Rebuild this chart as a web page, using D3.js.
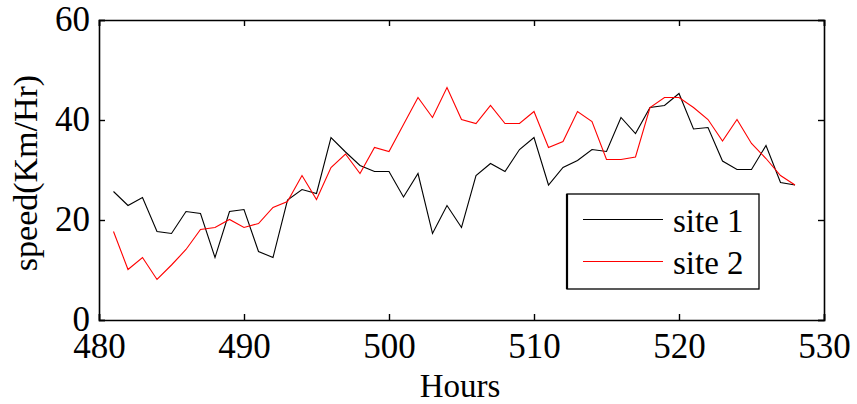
<!DOCTYPE html>
<html>
<head>
<meta charset="utf-8">
<script src="https://cdn.jsdelivr.net/npm/d3@7"></script>
<style>
  html, body { margin: 0; padding: 0; background: #fff; }
  svg { display: block; }
  text { font-family: "Liberation Serif", "Times New Roman", serif; fill: #000; }
</style>
</head>
<body>
<svg id="chart" width="857" height="404"></svg>
<script>
const hours = [481,482,483,484,485,486,487,488,489,490,491,492,493,494,495,496,497,498,499,500,501,502,503,504,505,506,507,508,509,510,511,512,513,514,515,516,517,518,519,520,521,522,523,524,525,526,527,528];
const site1 = [25.7,22.9,24.5,17.7,17.3,21.7,21.3,12.5,21.7,22.1,13.7,12.5,24.0,26.1,25.3,36.5,33.6,30.9,29.7,29.7,24.6,29.3,17.3,22.9,18.5,28.9,31.3,29.7,34.1,36.5,27.0,30.5,31.9,34.1,33.7,40.5,37.3,42.5,42.9,45.3,38.2,38.5,31.8,30.1,30.1,34.9,27.5,27.0];
const site2 = [17.7,10.1,12.5,8.1,11.0,14.1,18.1,18.5,20.1,18.5,19.3,22.5,23.7,28.9,24.1,30.5,33.2,29.3,34.5,33.7,39.1,44.5,40.5,46.5,40.1,39.3,42.9,39.3,39.3,41.7,34.5,35.7,41.7,39.7,32.1,32.1,32.6,42.5,44.5,44.5,42.5,40.1,35.8,40.1,35.3,32.3,28.9,27.0];
const xTicks = [480,490,500,510,520,530];
const yTicks = [0,20,40,60];
const seriesNames = ["site 1","site 2"];
const seriesColors = ["#000000","#ff0000"];

(function(){
const svg = d3.select("#chart");
const L = 99, R = 824, T = 20, B = 320;
const x = d3.scaleLinear().domain([480,530]).range([L,R]);
const y = d3.scaleLinear().domain([0,60]).range([B,T]);
const fs = 33, tfs = 35;
const tickLen = 6;

// data lines
const line = d3.line().x((d,i)=>x(hours[i])).y(d=>y(d));
[site1, site2].forEach((s,k)=>{
  svg.append("path").datum(s).attr("d", line)
    .attr("fill","none").attr("stroke", seriesColors[k]).attr("stroke-width",1.1);
});

// axes box
const gAx = svg.append("g");
const axB = gAx.append("g").attr("transform",`translate(0,${B})`)
  .call(d3.axisBottom(x).tickValues(xTicks).tickSize(-tickLen).tickPadding(16).tickFormat(d3.format("d")));
gAx.append("g").attr("transform",`translate(0,${T})`)
  .call(d3.axisTop(x).tickValues(xTicks).tickSize(-tickLen).tickFormat(""));
const axL = gAx.append("g").attr("transform",`translate(${L},0)`)
  .call(d3.axisLeft(y).tickValues(yTicks).tickSize(-tickLen).tickPadding(9));
gAx.append("g").attr("transform",`translate(${R},0)`)
  .call(d3.axisRight(y).tickValues(yTicks).tickSize(-tickLen).tickFormat(""));
gAx.selectAll(".domain").attr("stroke","#000").attr("stroke-width",1.6);
gAx.selectAll(".tick line").attr("stroke","#000").attr("stroke-width",1.4);
gAx.selectAll(".tick text").attr("font-size",tfs).attr("font-family","Liberation Serif, Times New Roman, serif").attr("fill","#000");
axB.selectAll(".tick text").attr("dy","0.62em");
axL.selectAll(".tick text").attr("dy","0.30em");

// axis labels
svg.append("text").attr("x",460).attr("y",397).attr("text-anchor","middle").attr("font-size",fs).text("Hours");
svg.append("text").attr("transform","translate(37,173) rotate(-90)").attr("text-anchor","middle").attr("font-size",fs+1).text("speed(Km/Hr)");

// legend
const lg = svg.append("g");
lg.append("rect").attr("x",567).attr("y",194).attr("width",192).attr("height",95)
  .attr("fill","#fff").attr("stroke","#000").attr("stroke-width",1.3);
lg.append("line").attr("x1",567).attr("x2",567).attr("y1",194).attr("y2",289).attr("stroke","#000").attr("stroke-width",2.2);
seriesNames.forEach((n,k)=>{
  const yy = 219.5 + k*42;
  lg.append("line").attr("x1",583).attr("x2",663).attr("y1",yy).attr("y2",yy)
    .attr("stroke",seriesColors[k]).attr("stroke-width",1.1);
  lg.append("text").attr("x",673).attr("y",yy+12.5).attr("font-size",fs).text(n);
});
})();
</script>
</body>
</html>
